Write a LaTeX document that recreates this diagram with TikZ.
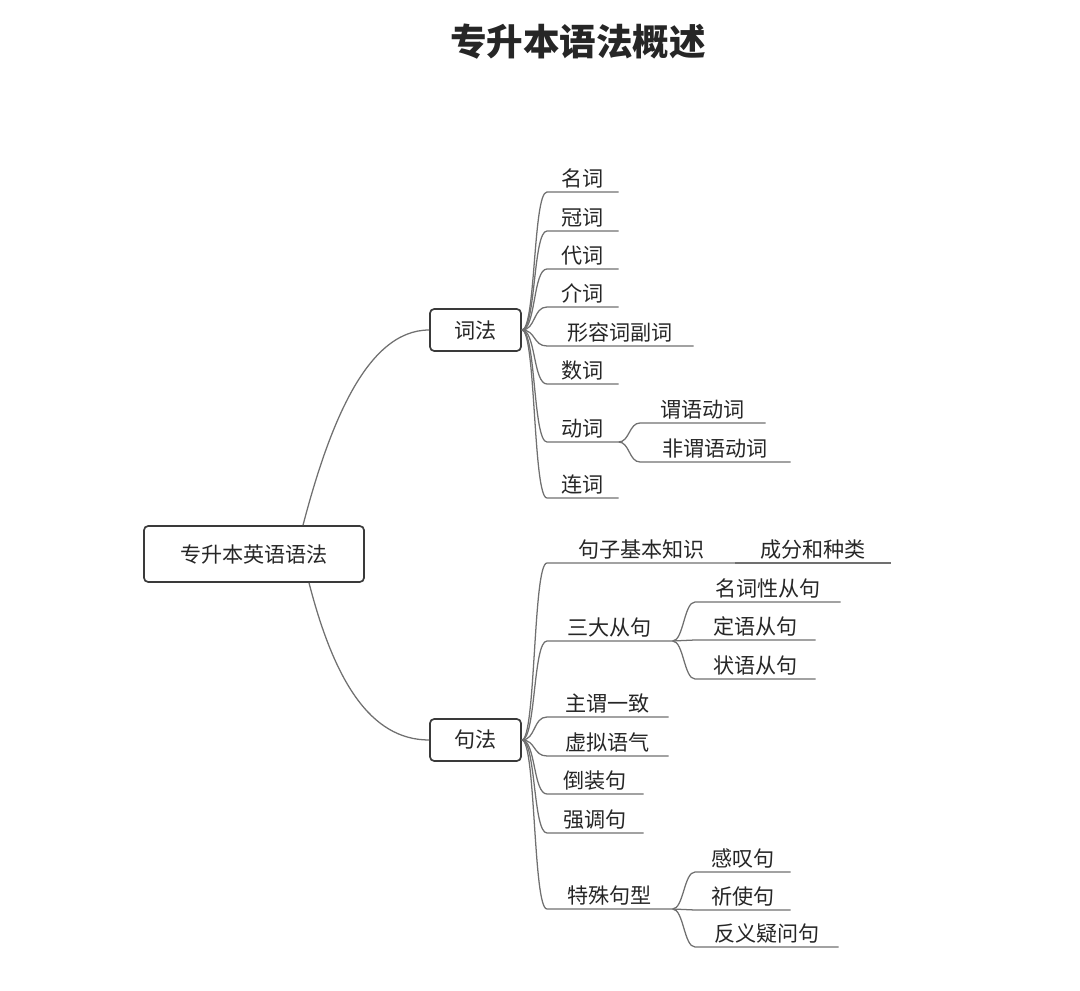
\documentclass[tikz,border=0pt]{standalone}
\usepackage{fontspec}
\newfontfamily\cjk{Noto Sans CJK SC}
\usetikzlibrary{calc,positioning}
\definecolor{linegray}{HTML}{707070}
\definecolor{boxgray}{HTML}{3A3A3A}
\definecolor{txtgray}{HTML}{262626}

\begin{document}
\begin{tikzpicture}[x=0.025cm, y=-0.025cm,
  font=\cjk\fontsize{15pt}{18pt}\selectfont, text=txtgray,
  topic/.style={draw=boxgray, line width=1.2pt, rounded corners=3pt, fill=white},
  leaf/.style={anchor=south west, inner ysep=2.5pt},
  branch/.style={draw=linegray, line width=0.9pt}]
 \useasboundingbox (0,0) rectangle (1080,991);
 \node (title) at (578,42) {\fontsize{26pt}{30pt}\selectfont\bfseries 专升本语法概述};

 \node (root) [topic, minimum width=5.5cm, minimum height=1.4cm] at (254,554) {专升本英语语法};
 \node (cifa) [topic, minimum width=2.275cm, minimum height=1.05cm] at (475.5,330) {词法};
 \node (jufa) [topic, minimum width=2.275cm, minimum height=1.05cm] at (475.5,740) {句法};

 \draw[branch] ([xshift=1.225cm]root.north) .. controls (328,430) and (365,330) .. (cifa.west);
 \draw[branch] ([xshift=1.375cm]root.south) .. controls (334,680) and (370,740) .. (jufa.west);

 % 词法
 \node (mingci) [leaf, minimum width=1.775cm] at (547,192) {名词};
 \node (guanci) [leaf, minimum width=1.775cm] at (547,231) {冠词};
 \node (daici) [leaf, minimum width=1.775cm] at (547,269) {代词};
 \node (jieci) [leaf, minimum width=1.775cm] at (547,307) {介词};
 \node (xingfu) [leaf, minimum width=3.65cm] at (547,346) {形容词副词};
 \node (shuci) [leaf, minimum width=1.775cm] at (547,384) {数词};
 \node (dongci) [leaf, minimum width=1.775cm] at (547,442) {动词};
 \node (lianci) [leaf, minimum width=1.775cm] at (547,498) {连词};
 \node (weiyu) [leaf, minimum width=3.125cm] at (640,423) {谓语动词};
 \node (feiweiyu) [leaf, minimum width=3.75cm] at (640,462) {非谓语动词};

 \draw[branch] (cifa.east) .. controls +(14,0) and +(-14,0) .. (mingci.south west) -- (mingci.south east);
 \draw[branch] (cifa.east) .. controls +(14,0) and +(-14,0) .. (guanci.south west) -- (guanci.south east);
 \draw[branch] (cifa.east) .. controls +(14,0) and +(-14,0) .. (daici.south west) -- (daici.south east);
 \draw[branch] (cifa.east) .. controls +(14,0) and +(-14,0) .. (jieci.south west) -- (jieci.south east);
 \draw[branch] (cifa.east) .. controls +(14,0) and +(-14,0) .. (xingfu.south west) -- (xingfu.south east);
 \draw[branch] (cifa.east) .. controls +(14,0) and +(-14,0) .. (shuci.south west) -- (shuci.south east);
 \draw[branch] (cifa.east) .. controls +(14,0) and +(-14,0) .. (dongci.south west) -- (dongci.south east);
 \draw[branch] (cifa.east) .. controls +(14,0) and +(-14,0) .. (lianci.south west) -- (lianci.south east);
 \draw[branch] (dongci.south east) .. controls +(11,0) and +(-11,0) .. (weiyu.south west) -- (weiyu.south east);
 \draw[branch] (dongci.south east) .. controls +(11,0) and +(-11,0) .. (feiweiyu.south west) -- (feiweiyu.south east);

 % 句法
 \node (jiben) [leaf, minimum width=4.7cm] at (547,563) {句子基本知识};
 \node (chengfen) [leaf, minimum width=3.875cm] at (735,563) {成分和种类};
 \node (sanda) [leaf, minimum width=3.125cm] at (547,641) {三大从句};
 \node (mcxcj) [leaf, minimum width=3.625cm] at (695,602) {名词性从句};
 \node (dycj) [leaf, minimum width=3cm] at (695,640) {定语从句};
 \node (zycj) [leaf, minimum width=3cm] at (695,679) {状语从句};
 \node (zhuwei) [leaf, minimum width=3.025cm] at (547,717) {主谓一致};
 \node (xuni) [leaf, minimum width=3.025cm] at (547,756) {虚拟语气};
 \node (daozhuang) [leaf, minimum width=2.4cm] at (547,794) {倒装句};
 \node (qiangdiao) [leaf, minimum width=2.4cm] at (547,833) {强调句};
 \node (teshu) [leaf, minimum width=3.125cm] at (547,909) {特殊句型};
 \node (gantan) [leaf, minimum width=2.375cm] at (695,872) {感叹句};
 \node (qishi) [leaf, minimum width=2.375cm] at (695,910) {祈使句};
 \node (fanyi) [leaf, minimum width=3.575cm] at (695,947) {反义疑问句};

 \draw[branch] (jufa.east) .. controls +(14,0) and +(-14,0) .. (jiben.south west) -- (jiben.south east);
 \draw[branch] (jiben.south east) -- (chengfen.south west) -- (chengfen.south east);
 \draw[branch] (jufa.east) .. controls +(14,0) and +(-14,0) .. (sanda.south west) -- (sanda.south east);
 \draw[branch] (sanda.south east) .. controls +(11,0) and +(-11,0) .. (mcxcj.south west) -- (mcxcj.south east);
 \draw[branch] (sanda.south east) .. controls +(11,0) and +(-11,0) .. (dycj.south west) -- (dycj.south east);
 \draw[branch] (sanda.south east) .. controls +(11,0) and +(-11,0) .. (zycj.south west) -- (zycj.south east);
 \draw[branch] (jufa.east) .. controls +(14,0) and +(-14,0) .. (zhuwei.south west) -- (zhuwei.south east);
 \draw[branch] (jufa.east) .. controls +(14,0) and +(-14,0) .. (xuni.south west) -- (xuni.south east);
 \draw[branch] (jufa.east) .. controls +(14,0) and +(-14,0) .. (daozhuang.south west) -- (daozhuang.south east);
 \draw[branch] (jufa.east) .. controls +(14,0) and +(-14,0) .. (qiangdiao.south west) -- (qiangdiao.south east);
 \draw[branch] (jufa.east) .. controls +(14,0) and +(-14,0) .. (teshu.south west) -- (teshu.south east);
 \draw[branch] (teshu.south east) .. controls +(11,0) and +(-11,0) .. (gantan.south west) -- (gantan.south east);
 \draw[branch] (teshu.south east) .. controls +(11,0) and +(-11,0) .. (qishi.south west) -- (qishi.south east);
 \draw[branch] (teshu.south east) .. controls +(11,0) and +(-11,0) .. (fanyi.south west) -- (fanyi.south east);
\end{tikzpicture}
\end{document}
